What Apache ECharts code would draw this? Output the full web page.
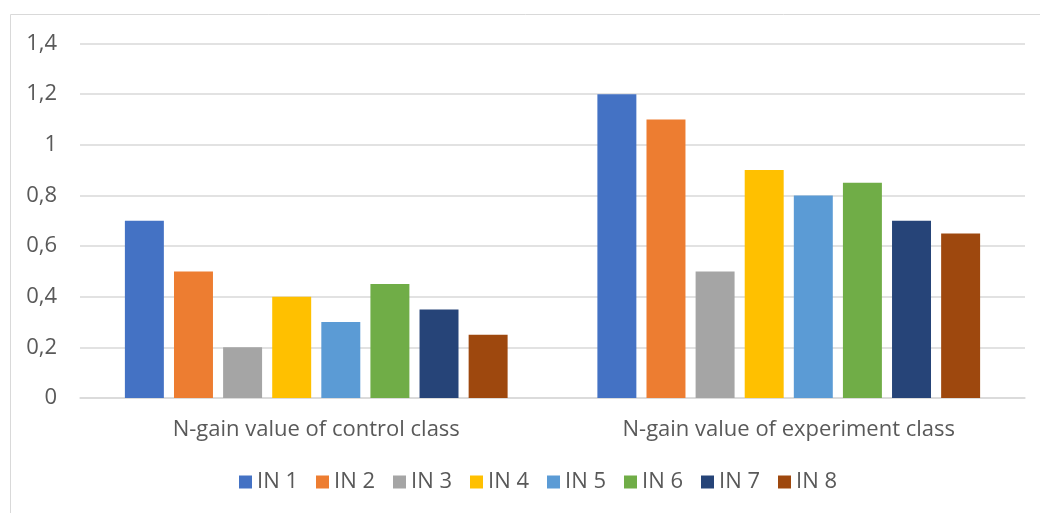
<!DOCTYPE html>
<html><head><meta charset="utf-8">
<script src="https://cdn.jsdelivr.net/npm/echarts@6/dist/echarts.min.js"></script>
<style>html,body{margin:0;padding:0;background:#fff}#c{width:1040px;height:513px}</style>
</head><body><div id="c"></div>
<script>
const categories = ["N-gain value of control class", "N-gain value of experiment class"];
const seriesNames = ["IN 1","IN 2","IN 3","IN 4","IN 5","IN 6","IN 7","IN 8"];
const controlValues = [0.7, 0.5, 0.2, 0.4, 0.3, 0.45, 0.35, 0.25];
const experimentValues = [1.2, 1.1, 0.5, 0.9, 0.8, 0.85, 0.7, 0.65];
const colors = ["#4472C4","#ED7D31","#A5A5A5","#FFC000","#5B9BD5","#70AD47","#264478","#9E480E"];
const FONT = "'Open Sans', sans-serif";
const chart = echarts.init(document.getElementById('c'));
chart.setOption({
  animation: false,
  color: colors,
  graphic: [{type:'polyline', shape:{points:[[10.5,520],[10.5,14.5],[1050,14.5]]}, style:{stroke:'#d9d9d9', lineWidth:1, fill:null}}],
  grid: {left: 80, right: 15, top: 43.5, bottom: 115},
  legend: {bottom: 15, left: 234, itemWidth: 13, itemHeight: 13, itemGap: 18, icon: 'rect',
    textStyle: {color:'#595959', fontSize: 22, fontFamily: FONT}, data: seriesNames},
  xAxis: {type:'category', data: categories, axisTick:{show:false},
    axisLine:{lineStyle:{color:'#d9d9d9', width:1.5}},
    axisLabel:{color:'#595959', fontSize:22, fontFamily:FONT, margin:21}},
  yAxis: {type:'value', min:0, max:1.4, interval:0.2,
    axisLine:{show:false}, axisTick:{show:false},
    splitLine:{lineStyle:{color:'#d9d9d9', width:1.5}},
    axisLabel:{color:'#595959', fontSize:22, fontFamily:FONT, margin:23,
      formatter: v => String(Math.round(v*10)/10).replace('.', ',')}},
  series: seriesNames.map((n,i)=>({name:n, type:'bar', data:[controlValues[i], experimentValues[i]],
    barGap:'26%', barCategoryGap:'19%'}))
});
</script></body></html>
